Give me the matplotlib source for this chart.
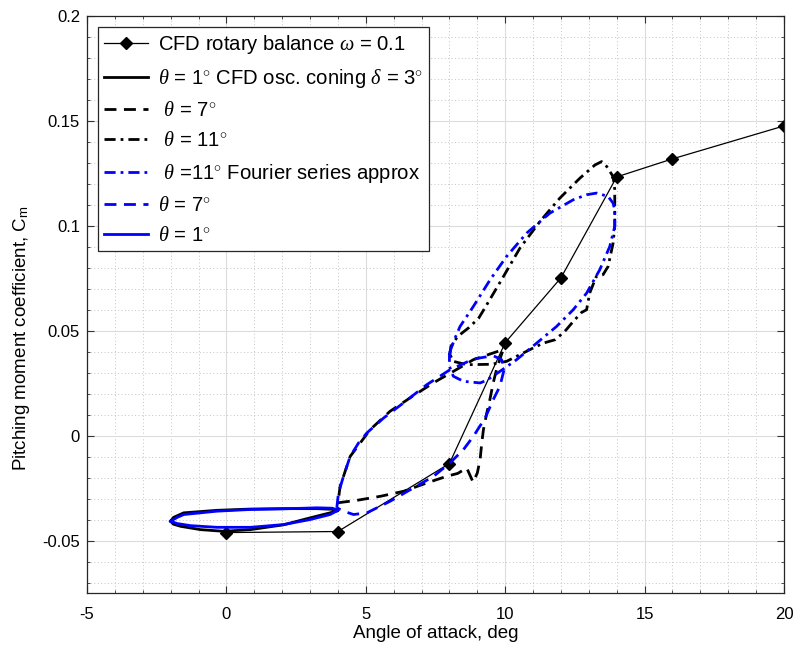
import matplotlib
matplotlib.use("Agg")
import matplotlib.pyplot as plt
from matplotlib.ticker import MultipleLocator, FuncFormatter

plt.rcParams['font.family'] = ['Liberation Sans', 'DejaVu Sans']
plt.rcParams['mathtext.fontset'] = 'custom'
plt.rcParams['mathtext.rm'] = 'Liberation Sans'
plt.rcParams['mathtext.it'] = 'Liberation Serif:italic'
plt.rcParams['axes.unicode_minus'] = False

# CFD rotary balance, omega = 0.1
rb_alpha = [0, 4, 8, 10, 12, 14, 16, 20]
rb_cm = [-0.0462, -0.0457, -0.0133, 0.0443, 0.0752, 0.1233, 0.1319, 0.1476]

# theta = 1 deg, CFD oscillatory coning (black solid)
cfd1_alpha = [-2.0, -1.9, -1.53, -0.34, 0.86, 2.05, 3.25, 3.96, 4.0, 3.72, 3.0, 2.05,
              0.86, -0.1, -0.93, -1.65, -1.9, -2.0]
cfd1_cm = [-0.0408, -0.0390, -0.0368, -0.0356, -0.0350, -0.0348, -0.0348, -0.0352,
           -0.0358, -0.0368, -0.0392, -0.0425, -0.0448, -0.0456, -0.0448, -0.0432,
           -0.0422, -0.0408]

# theta = 7 deg, CFD (black dashed)
cfd7_alpha = [4.0, 4.7, 5.53, 6.36, 7.2, 7.9, 8.3, 8.62, 8.85, 9.0, 9.1, 9.16, 9.22,
              9.34, 9.45, 9.57, 9.69, 9.85, 9.93, 9.57, 8.86, 8.14, 7.43, 6.59, 5.87,
              5.16, 4.8, 4.44, 4.08, 4.0]
cfd7_cm = [-0.0320, -0.0308, -0.0289, -0.0265, -0.0225, -0.0194, -0.0180, -0.0154,
           -0.0222, -0.0178, -0.0114, -0.0035, 0.0029, 0.0108, 0.0171, 0.0251, 0.0315,
           0.0380, 0.0410, 0.0394, 0.0362, 0.0306, 0.0252, 0.0180, 0.0116, 0.0029,
           -0.0035, -0.0099, -0.0241, -0.0320]

# theta = 11 deg, CFD (black dash-dot)
cfd11_alpha = [8.02, 8.05, 8.3, 8.7, 9.05, 9.3, 9.87, 10.53, 11.25, 11.96, 12.68, 13.22,
               13.46, 13.64, 13.87, 13.93, 13.93, 13.93, 13.87, 13.69, 13.51, 13.27,
               13.03, 12.92, 12.74, 12.44, 12.14, 11.79, 11.37, 11.01, 10.53, 10.05,
               9.5, 8.62, 8.14, 8.02]
cfd11_cm = [0.0386, 0.0425, 0.0473, 0.0515, 0.0560, 0.0615, 0.0743, 0.0894, 0.1021,
            0.1132, 0.1227, 0.1290, 0.1306, 0.1283, 0.1235, 0.1173, 0.1092, 0.0997,
            0.0917, 0.0806, 0.0767, 0.0759, 0.0679, 0.0600, 0.0587, 0.0544, 0.0497,
            0.0457, 0.0441, 0.0418, 0.0386, 0.0354, 0.0340, 0.0338, 0.0354, 0.0386]

# theta = 11 deg, Fourier series approx (blue dash-dot)
fs11_alpha = [8.0, 8.2, 8.38, 8.86, 9.46, 10.05, 10.77, 11.6, 12.44, 12.92, 13.28, 13.69,
              13.87, 13.93, 13.93, 13.75, 13.39, 12.92, 12.44, 11.84, 11.13, 10.41, 9.81,
              9.34, 9.1, 8.5, 8.14, 8.0, 8.0]
fs11_cm = [0.0394, 0.0465, 0.0520, 0.0616, 0.0743, 0.0854, 0.0965, 0.1060, 0.1124,
           0.1148, 0.1156, 0.1140, 0.1108, 0.1076, 0.0997, 0.0901, 0.0790, 0.0679,
           0.0600, 0.0520, 0.0441, 0.0362, 0.0306, 0.0264, 0.0251, 0.0259, 0.0283,
           0.0330, 0.0394]

# theta = 7 deg, Fourier (blue dashed)
fs7_alpha = [3.96, 4.02, 4.2, 4.44, 4.74, 5.04, 5.64, 6.35, 7.19, 8.02, 8.86, 9.57, 9.87,
             9.96, 9.81, 9.57, 9.28, 8.86, 8.5, 8.02, 7.43, 6.71, 5.87, 5.04, 4.56, 4.2,
             3.96]
fs7_cm = [-0.0344, -0.0273, -0.0194, -0.0099, -0.0035, 0.0013, 0.0084, 0.0156, 0.0243,
          0.0314, 0.0365, 0.0381, 0.0362, 0.0314, 0.0235, 0.0171, 0.0084, -0.0003,
          -0.0067, -0.0130, -0.0194, -0.0249, -0.0313, -0.0368, -0.0376, -0.0360,
          -0.0344]

# theta = 1 deg, Fourier (blue solid)
fs1_alpha = [-2.0, -1.77, -1.53, -0.34, 0.86, 2.05, 3.25, 3.8, 4.0, 3.72, 3.0, 2.05,
             0.86, -0.34, -1.29, -1.77, -2.0]
fs1_cm = [-0.0408, -0.0390, -0.0376, -0.0360, -0.0352, -0.0349, -0.0344, -0.0346,
          -0.0356, -0.0376, -0.0400, -0.0424, -0.0437, -0.0437, -0.0429, -0.0419,
          -0.0408]

blue = '#0000ff'
lw = 2.0
dash = (4.3, 2.7)
dashdot = (4.0, 1.8, 1.0, 1.8)

fig = plt.figure(figsize=(7.96, 6.52), dpi=100)
ax = fig.add_axes([0.1093, 0.0905, 0.8756, 0.885])

ax.plot(rb_alpha, rb_cm, color='k', lw=0.9, marker='D', ms=6.2,
        label=r'CFD rotary balance $\omega$ = 0.1')
ax.plot(cfd1_alpha, cfd1_cm, color='k', lw=lw,
        label=r'$\theta$ = 1$^{\circ}$ CFD osc. coning $\delta$ = 3$^{\circ}$')
ax.plot(cfd7_alpha, cfd7_cm, color='k', lw=lw, dashes=dash,
        label=r' $\theta$ = 7$^{\circ}$')
ax.plot(cfd11_alpha, cfd11_cm, color='k', lw=lw, dashes=dashdot,
        label=r' $\theta$ = 11$^{\circ}$')
ax.plot(fs11_alpha, fs11_cm, color=blue, lw=lw, dashes=dashdot,
        label=r' $\theta$ =11$^{\circ}$ Fourier series approx')
ax.plot(fs7_alpha, fs7_cm, color=blue, lw=lw, dashes=dash,
        label=r'$\theta$ = 7$^{\circ}$')
ax.plot(fs1_alpha, fs1_cm, color=blue, lw=lw,
        label=r'$\theta$ = 1$^{\circ}$')

ax.set_xlim(-5, 20)
ax.set_ylim(-0.075, 0.2)
ax.xaxis.set_major_locator(MultipleLocator(5))
ax.xaxis.set_minor_locator(MultipleLocator(1))
ax.yaxis.set_major_locator(MultipleLocator(0.05))
ax.yaxis.set_minor_locator(MultipleLocator(0.01))
ax.yaxis.set_major_formatter(FuncFormatter(lambda v, p: '%g' % round(v, 3)))
ax.xaxis.set_major_formatter(FuncFormatter(lambda v, p: '%g' % v))

ax.grid(True, which='major', color='#dcdcdc', lw=0.8, ls='-')
ax.grid(True, which='minor', color='#c4c4c4', lw=0.7, ls=(0, (1, 2.5)))
ax.set_axisbelow(True)
ax.tick_params(which='both', direction='in', top=True, right=True, labelsize=12,
               color='#333333')
ax.tick_params(which='major', length=5)
ax.tick_params(which='minor', length=2.5)
ax.tick_params(axis='x', pad=10)
ax.tick_params(axis='y', pad=5)
for s in ax.spines.values():
    s.set_color('#262626')
    s.set_linewidth(0.9)

ax.set_xlabel('Angle of attack, deg', fontsize=13.5)
ax.set_ylabel(r'Pitching moment coefficient, C$_{\rm m}$', fontsize=13.5)
ax.xaxis.set_label_coords(0.5, -0.056)
ax.yaxis.set_label_coords(-0.079, 0.442)

leg = ax.legend(loc='upper left', bbox_to_anchor=(0.016, 0.981), borderaxespad=0,
                fontsize=14.6, handlelength=2.15, handletextpad=0.5,
                labelspacing=0.55, borderpad=0.3, fancybox=False, framealpha=1)
leg.get_frame().set_edgecolor('#262626')
leg.get_frame().set_linewidth(0.9)

fig.savefig('out.png', dpi=100)
